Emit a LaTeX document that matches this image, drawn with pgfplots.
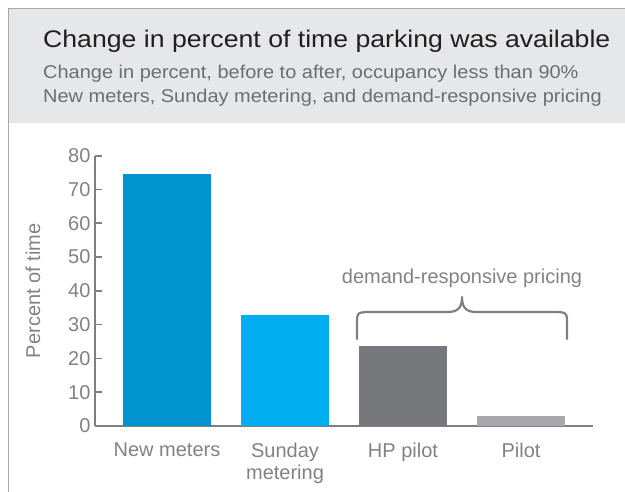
\documentclass[border=0pt]{standalone}
\usepackage{fontspec}
\setmainfont{Liberation Sans}
\usepackage{pgfplots}
\pgfplotsset{compat=1.18}
\definecolor{headgray}{HTML}{E6E7E8}
\definecolor{framegray}{HTML}{A7A9AC}
\definecolor{titlecol}{HTML}{231F20}
\definecolor{subcol}{HTML}{6D6E71}
\definecolor{labelgray}{HTML}{808285}
\definecolor{axisgray}{HTML}{7D7F82}
\definecolor{cNew}{HTML}{0093D0}
\definecolor{cSun}{HTML}{00AEEF}
\definecolor{cHP}{HTML}{77787B}
\definecolor{cPilot}{HTML}{A7A9AC}
\begin{document}
\begin{tikzpicture}
\path[use as bounding box] (0pt,0pt) rectangle (625pt,491pt);
\fill[headgray] (8.5pt,483pt) rectangle (630pt,368pt);
\draw[framegray, line width=1.3pt] (8.8pt,-5pt) -- (8.8pt,482.8pt) -- (640pt,482.8pt);
\node[anchor=base west, inner sep=0pt, text=titlecol] at (43pt,443pt)
  {\scalebox{1.11}[1]{\fontsize{24}{28}\selectfont Change in percent of time parking was available}};
\node[anchor=base west, inner sep=0pt, text=subcol] at (43pt,412pt)
  {\scalebox{1.08}[1]{\fontsize{18.5}{22}\selectfont Change in percent, before to after, occupancy less than 90\%}};
\node[anchor=base west, inner sep=0pt, text=subcol] at (43pt,388pt)
  {\scalebox{1.08}[1]{\fontsize{18.5}{22}\selectfont New meters, Sunday metering, and demand-responsive pricing}};
\begin{axis}[
  at={(95pt,65pt)}, anchor=south west,
  scale only axis, width=498pt, height=270.3pt,
  xmin=-0.61, xmax=3.61, ymin=0, ymax=80,
  axis lines=left,
  axis line style={-, draw=axisgray, line width=1.8pt},
  ytick={0,10,...,80},
  xtick={0,1,2,3},
  xticklabels={New meters,{Sunday\\metering},HP pilot,Pilot},
  xtick style={draw=none},
  ytick style={draw=axisgray, line width=1.6pt},
  tick align=inside,
  major tick length=7pt,
  /pgf/number format/assume math mode=true,
  tick label style={font=\fontsize{20}{22}\selectfont, text=labelgray},
  xticklabel style={align=center, yshift=-6pt},
  yticklabel style={xshift=-1pt},
  ylabel={Percent of time},
  every axis y label/.style={at={(axis description cs:-0.1245,0.5)}, rotate=90, anchor=center, font=\fontsize{20}{22}\selectfont, text=labelgray},
  ybar, bar width=88pt, bar shift=0pt,
  clip=false,
]
\addplot[fill=cNew, draw=none] coordinates {(0,74.5)};
\addplot[fill=cSun, draw=none] coordinates {(1,32.8)};
\addplot[fill=cHP, draw=none] coordinates {(2,23.8)};
\addplot[fill=cPilot, draw=none] coordinates {(3,3.0)};
\draw[axisgray, line width=2.2pt, line cap=round, line join=round]
  (axis cs:1.610,25.75) -- (axis cs:1.610,30.3)
  .. controls (axis cs:1.610,33.74) .. (axis cs:1.75,33.74)
  -- (axis cs:2.38,33.74)
  .. controls (axis cs:2.47,33.74) and (axis cs:2.50,35.2) .. (axis cs:2.50,38.2)
  .. controls (axis cs:2.50,35.2) and (axis cs:2.53,33.74) .. (axis cs:2.62,33.74)
  -- (axis cs:3.25,33.74)
  .. controls (axis cs:3.39,33.74) .. (axis cs:3.39,30.3)
  -- (axis cs:3.39,25.75);
\node[text=labelgray, font=\fontsize{20}{22}\selectfont] at (axis cs:2.5,43.8) {demand-responsive pricing};
\end{axis}
\end{tikzpicture}
\end{document}
